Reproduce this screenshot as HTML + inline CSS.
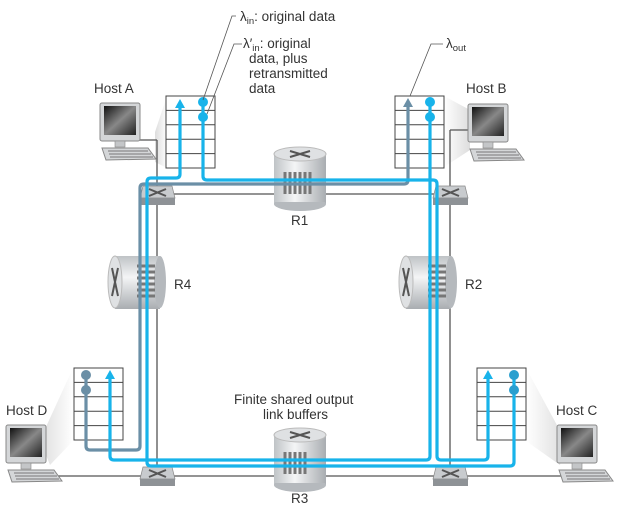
<!DOCTYPE html>
<html><head><meta charset="utf-8"><style>
html,body{margin:0;padding:0;background:#fff}
svg{display:block}
text{font-family:"Liberation Sans",sans-serif;fill:#333;font-size:13.5px}
</style></head><body>
<svg width="624" height="505" viewBox="0 0 624 505" xmlns="http://www.w3.org/2000/svg">
<defs>
<linearGradient id="cyl" x1="0" x2="1" y1="0" y2="0">
<stop offset="0" stop-color="#bfc3c6"/><stop offset="0.4" stop-color="#f4f5f6"/><stop offset="1" stop-color="#a9adb1"/></linearGradient>
<linearGradient id="cylv" x1="0" x2="0" y1="0" y2="1">
<stop offset="0" stop-color="#bfc3c6"/><stop offset="0.4" stop-color="#f4f5f6"/><stop offset="1" stop-color="#a9adb1"/></linearGradient>
<linearGradient id="scr" x1="0" x2="1" y1="0" y2="1">
<stop offset="0" stop-color="#111"/><stop offset="0.5" stop-color="#888"/><stop offset="1" stop-color="#222"/></linearGradient>
<linearGradient id="sh" x1="0" x2="1"><stop offset="0" stop-color="#fff"/><stop offset="1" stop-color="#ddd"/></linearGradient>
<linearGradient id="shr" x1="1" x2="0"><stop offset="0" stop-color="#fff"/><stop offset="1" stop-color="#ddd"/></linearGradient>
<g id="comp">
<rect x="0" y="0" width="40" height="38" rx="2" fill="#d4d6d8" stroke="#888"/>
<rect x="4" y="3" width="32" height="29" fill="url(#scr)"/>
<rect x="15" y="38" width="10" height="6" fill="#c4c6c8" stroke="#888" stroke-width="0.6"/>
<path d="M2 45 L48 45 L56 56 L6 57 Z" fill="#d4d6d8" stroke="#888"/>
<path d="M8 48 H48 M9 51 H51 M10 54 H53" stroke="#777" stroke-width="1"/>
</g>
<g id="sw">
<path d="M3 0 H32 L35 12 H0 Z" fill="#c8cbce" stroke="#888" stroke-width="0.7"/>
<rect x="0" y="12" width="35" height="7" fill="#8e9296"/>
<path d="M9 3 L26 10 M26 3 L9 10" stroke="#555" stroke-width="2"/>
</g>
<g id="tbl">
<rect x="0" y="0" width="49" height="72" fill="#fff" stroke="#444"/>
<path d="M0 14.4 H49 M0 28.8 H49 M0 43.2 H49 M0 57.6 H49" stroke="#444"/>
</g>
</defs>

<path d="M155 132 L167 96 L167 168 L155 162 Z" fill="url(#shr)"/>
<path d="M444 96 L470 110 L470 150 L444 167 Z" fill="url(#sh)"/>
<path d="M40 440 L73 368 L73 441 L50 465 Z" fill="url(#shr)"/>
<path d="M526 368 L565 440 L560 465 L526 441 Z" fill="url(#sh)"/>

<g stroke="#555" stroke-width="1.3" fill="none">
<path d="M157 194 H450"/>
<path d="M157 140 V476"/>
<path d="M450 130 V476"/>
<path d="M45 476 H580"/>
<path d="M130 140 H157"/>
<path d="M450 130 H470"/>
</g>

<use href="#tbl" x="166" y="96"/>
<use href="#tbl" x="395" y="96"/>
<use href="#tbl" x="74" y="368"/>
<use href="#tbl" x="477" y="368"/>

<use href="#comp" x="100" y="103"/>
<use href="#comp" x="468" y="104"/>
<use href="#comp" x="6" y="425"/>
<use href="#comp" x="557" y="425"/>

<g>
<rect x="274" y="154" width="52" height="50" fill="url(#cyl)"/>
<ellipse cx="300" cy="204" rx="26" ry="7" fill="#b5b9bd"/>
<rect x="274" y="154" width="52" height="48" fill="url(#cyl)"/>
<ellipse cx="300" cy="154" rx="26" ry="7" fill="#dfe1e3" stroke="#bbb"/>
<path d="M290 151 L310 157 M310 151 L290 157" stroke="#555" stroke-width="2"/>
<path d="M285 172 v22 M290 172 v22 M295 172 v22 M300 172 v22 M305 172 v22 M310 172 v22" stroke="#777" stroke-width="3"/>
</g>
<g>
<rect x="274" y="435" width="52" height="50" fill="url(#cyl)"/>
<ellipse cx="300" cy="485" rx="26" ry="7" fill="#b5b9bd"/>
<rect x="274" y="435" width="52" height="48" fill="url(#cyl)"/>
<ellipse cx="300" cy="435" rx="26" ry="7" fill="#dfe1e3" stroke="#bbb"/>
<path d="M290 432 L310 438 M310 432 L290 438" stroke="#555" stroke-width="2"/>
<path d="M285 452 v22 M290 452 v22 M295 452 v22 M300 452 v22 M305 452 v22" stroke="#777" stroke-width="3"/>
</g>
<g>
<rect x="115" y="256" width="45" height="53" fill="url(#cylv)"/>
<ellipse cx="160" cy="282" rx="6" ry="26" fill="#b5b9bd"/>
<ellipse cx="115" cy="282" rx="7" ry="26" fill="#dfe1e3" stroke="#bbb"/>
<path d="M112 268 L118 296 M118 268 L112 296" stroke="#555" stroke-width="2"/>
<path d="M137 266 h18 M137 272 h18 M137 278 h18 M137 284 h18 M137 290 h18 M137 296 h18" stroke="#777" stroke-width="3"/>
</g>
<g>
<rect x="406" y="256" width="45" height="53" fill="url(#cylv)"/>
<ellipse cx="451" cy="282" rx="6" ry="26" fill="#b5b9bd"/>
<ellipse cx="406" cy="282" rx="7" ry="26" fill="#dfe1e3" stroke="#bbb"/>
<path d="M403 268 L409 296 M409 268 L403 296" stroke="#555" stroke-width="2"/>
<path d="M428 266 h18 M428 272 h18 M428 278 h18 M428 284 h18 M428 290 h18 M428 296 h18" stroke="#777" stroke-width="3"/>
</g>

<use href="#sw" x="140" y="186"/>
<use href="#sw" x="433" y="186"/>
<use href="#sw" x="140" y="467"/>
<use href="#sw" x="433" y="467"/>

<g fill="none" stroke-width="3.2" stroke-linejoin="round">
<path d="M408 104 V180 Q408 184 404 184 H144 Q140 184 140 188 V446 Q140 450 136 450 H90 Q86 450 86 446 V376" stroke="#6b8fa6"/>
<path d="M203 102 V176 Q203 180 207 180 H433 Q437 180 437 184 V456 Q437 460 441 460 H484 Q488 460 488 456 V376" stroke="#18b3ea"/>
<path d="M514 376 V462 Q514 466 510 466 H151 Q147 466 147 462 V182 Q147 178 151 178 H176 Q180 178 180 174 V105" stroke="#18b3ea"/>
<path d="M430 102 V456 Q430 460 426 460 H114 Q110 460 110 456 V376" stroke="#18b3ea"/>
</g>
<path d="M180 99 L175 108 H185 Z" fill="#18b3ea"/>
<path d="M408 98 L403 107 H413 Z" fill="#6b8fa6"/>
<path d="M110 370 L105 379 H115 Z" fill="#18b3ea"/>
<path d="M488 370 L483 379 H493 Z" fill="#18b3ea"/>
<circle cx="203" cy="102" r="5" fill="#18b3ea"/><circle cx="203" cy="117" r="5" fill="#18b3ea"/>
<circle cx="430" cy="102" r="5" fill="#18b3ea"/><circle cx="430" cy="117" r="5" fill="#18b3ea"/>
<circle cx="86" cy="375" r="5" fill="#6b8fa6"/><circle cx="86" cy="390" r="5" fill="#6b8fa6"/>
<circle cx="514" cy="375" r="5" fill="#2a9fcf"/><circle cx="514" cy="390" r="5" fill="#2a9fcf"/>

<path d="M203 100 L232 16 H236" stroke="#555" stroke-width="0.8" fill="none"/>
<path d="M207 114 L234 44 H242" stroke="#555" stroke-width="0.8" fill="none"/>
<path d="M410 96 L431 44 H443" stroke="#555" stroke-width="0.8" fill="none"/>

<text x="240" y="21">λ<tspan font-size="9.5" dy="3">in</tspan><tspan dy="-3">: original data</tspan></text>
<text x="243" y="48">λ′<tspan font-size="9.5" dy="3">in</tspan><tspan dy="-3">: original</tspan></text>
<text x="249" y="63">data, plus</text>
<text x="249" y="78">retransmitted</text>
<text x="249" y="93">data</text>
<text x="446" y="48">λ<tspan font-size="9.5" dy="3">out</tspan></text>
<text x="94" y="93">Host A</text>
<text x="466" y="93">Host B</text>
<text x="6" y="415">Host D</text>
<text x="556" y="415">Host C</text>
<text x="291" y="225">R1</text>
<text x="291" y="503">R3</text>
<text x="174" y="289">R4</text>
<text x="465" y="289">R2</text>
<text x="234" y="404">Finite shared output</text>
<text x="263" y="419">link buffers</text>
</svg>
</body></html>
